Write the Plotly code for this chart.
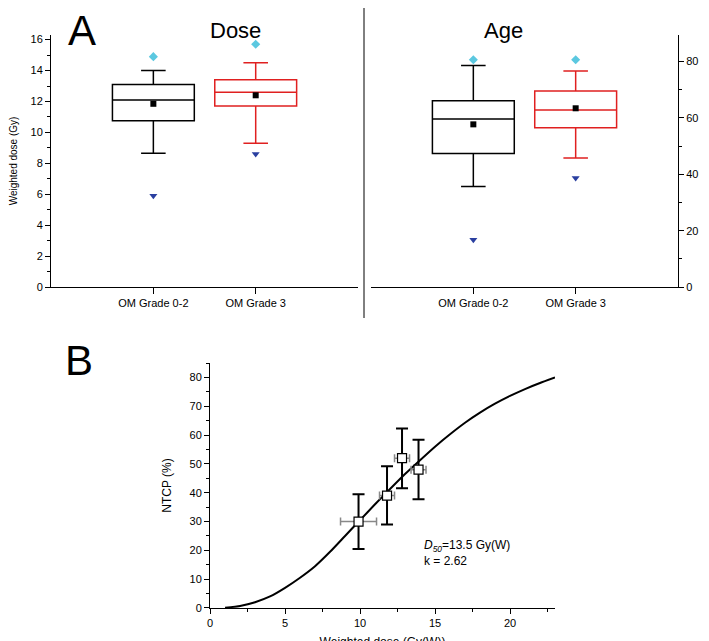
import plotly.graph_objects as go

groups = ["OM Grade 0-2", "OM Grade 3"]
dose_q1 = [10.75, 11.7]; dose_med = [12.1, 12.6]; dose_q3 = [13.1, 13.4]
dose_lo = [8.65, 9.3]; dose_hi = [14.0, 14.5]; dose_mean = [11.85, 12.4]
dose_max = [14.9, 15.7]; dose_min = [5.9, 8.6]
age_q1 = [47.4, 56.5]; age_med = [59.6, 62.8]; age_q3 = [66.1, 69.5]
age_lo = [35.7, 45.8]; age_hi = [78.6, 76.6]; age_mean = [57.7, 63.4]
age_max = [80.6, 80.6]; age_min = [16.8, 38.7]
colors = ["black", "#e02020"]

pt_x = [9.9, 11.8, 12.8, 13.9]
pt_xerr = [1.2, 0.5, 0.5, 0.5]
pt_y = [30, 39, 52, 48]
pt_yup = [9.5, 10.2, 10.3, 10.4]
pt_ydn = [9.5, 10.0, 10.4, 10.3]
curve_x = [1, 2, 3, 4, 5, 6, 7, 8, 9, 10, 11, 12, 13, 14, 15, 16, 17, 18, 19, 20, 21, 22, 23]
curve_y = [0.1, 0.7, 2, 4, 7, 10.5, 14.5, 19.5, 25, 30.5, 36, 41.3, 46.5, 51.3, 56, 60.3, 64.3, 67.8, 70.9, 73.6, 76, 78.1, 80]

fig = go.Figure()
F = "Liberation Sans, Arial, sans-serif"

def boxes(xa, ya, q1, med, q3, lo, hi, mean, mx, mn):
    for i in range(2):
        fig.add_trace(go.Box(x=[i + 1], q1=[q1[i]], median=[med[i]], q3=[q3[i]],
                             lowerfence=[lo[i]], upperfence=[hi[i]], width=0.8,
                             whiskerwidth=0.3, line=dict(color=colors[i], width=1.5),
                             fillcolor="rgba(0,0,0,0)", boxpoints=False,
                             xaxis=xa, yaxis=ya, showlegend=False))
    fig.add_trace(go.Scatter(x=[1, 2], y=mean, mode="markers", xaxis=xa, yaxis=ya,
                             marker=dict(symbol="square", color="black", size=6), showlegend=False))
    fig.add_trace(go.Scatter(x=[1, 2], y=mx, mode="markers", xaxis=xa, yaxis=ya,
                             marker=dict(symbol="diamond", color="#5bc8e0", size=7), showlegend=False))
    fig.add_trace(go.Scatter(x=[1, 2], y=mn, mode="markers", xaxis=xa, yaxis=ya,
                             marker=dict(symbol="triangle-down", color="#2a3fa0", size=7), showlegend=False))

boxes("x", "y", dose_q1, dose_med, dose_q3, dose_lo, dose_hi, dose_mean, dose_max, dose_min)
boxes("x2", "y2", age_q1, age_med, age_q3, age_lo, age_hi, age_mean, age_max, age_min)

fig.add_trace(go.Scatter(x=curve_x, y=curve_y, mode="lines", line=dict(color="black", width=2, shape="spline", smoothing=0.5),
                         xaxis="x3", yaxis="y3", showlegend=False))
fig.add_trace(go.Scatter(x=pt_x, y=pt_y, mode="markers", xaxis="x3", yaxis="y3", showlegend=False,
                         marker=dict(symbol="square", color="white", size=9, line=dict(width=1.2, color="black")),
                         error_x=dict(type="data", array=pt_xerr, color="#888888", thickness=1.5, width=4),
                         error_y=dict(type="data", array=pt_yup, arrayminus=pt_ydn, color="black", thickness=2, width=6)))

tf = dict(family=F, size=11, color="black")
common = dict(showline=True, linecolor="black", linewidth=1, ticks="outside", tickcolor="black",
              showgrid=False, zeroline=False, tickfont=tf, automargin=False)
def tt(text, size):
    return dict(text=text, font=dict(family=F, size=size, color="black"))
fig.update_layout(
    width=709, height=641, margin=dict(l=0, r=0, t=0, b=0, autoexpand=False),
    paper_bgcolor="white", plot_bgcolor="white", font=dict(family=F, color="black"),
    xaxis=dict(domain=[0.0607, 0.4937], range=[0, 3], tickvals=[1, 2], ticktext=groups, ticklen=6, anchor="y", **common),
    yaxis=dict(domain=[0.5647, 0.9579], range=[0, 16.3], dtick=2, ticklen=5, anchor="x",
               minor=dict(ticks="outside", dtick=1, ticklen=3, tickcolor="black"),
               title=tt("Weighted dose (Gy)", 10), **common),
    xaxis2=dict(domain=[0.512, 0.945], range=[0, 3], tickvals=[1, 2], ticktext=groups, ticklen=6, anchor="y2", **common),
    yaxis2=dict(domain=[0.5647, 0.9579], range=[0, 89.4], dtick=20, ticklen=5, side="right", anchor="x2",
                minor=dict(ticks="outside", dtick=10, ticklen=3, tickcolor="black"),
                title=tt("Age(y)", 12), **common),
    xaxis3=dict(domain=[0.285, 0.7715], range=[0, 23], dtick=5, ticklen=5, anchor="y3",
                minor=dict(ticks="outside", dtick=2.5, ticklen=3, tickcolor="black"),
                title=tt("Weighted dose (Gy(W))", 12), **common),
    yaxis3=dict(domain=[0.064, 0.446], range=[0, 85], dtick=10, ticklen=5, anchor="x3",
                minor=dict(ticks="outside", dtick=5, ticklen=3, tickcolor="black"),
                title=tt("NTCP (%)", 12), **common),
)
ann = [
    dict(text="A", x=58, y=22, size=42),
    dict(text="B", x=55, y=352, size=42),
    dict(text="Dose", x=200, y=22, size=22),
    dict(text="Age", x=517, y=22, size=22),
]
for a in ann:
    fig.add_annotation(text=a["text"], x=a["x"] / 709, y=1 - a["y"] / 641, xref="paper", yref="paper",
                       showarrow=False, yanchor="middle", font=dict(family=F, size=a["size"], color="black"))
fig.add_annotation(text="<i>D</i><sub><i>50</i></sub>=13.5 Gy(W)<br>k = 2.62", x=414 / 709, y=1 - 528 / 641,
                   xref="paper", yref="paper", showarrow=False, xanchor="left", yanchor="top", align="left",
                   font=dict(family=F, size=12, color="black"))
fig.add_shape(type="line", x0=356 / 709, x1=356 / 709, y0=1 - 310 / 641, y1=1, xref="paper", yref="paper",
              line=dict(color="black", width=1))
fig.write_html("out.html")
